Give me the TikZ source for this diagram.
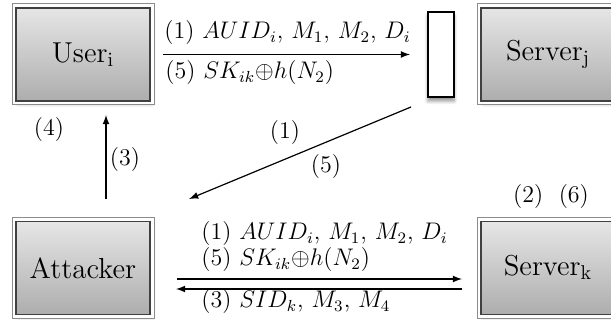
\documentclass[tikz,border=0pt]{standalone}
\usetikzlibrary{shadows.blur}
\begin{document}
\begin{tikzpicture}[
    x=0.5pt, y=-0.5pt,
    node distance=232.5pt,
    party/.style={
        blur shadow={shadow xshift=1.2pt, shadow yshift=-1.5pt, shadow blur steps=6, shadow opacity=30},
        preaction={draw=black!45, line width=4.5pt},
        preaction={draw=white, line width=3.5pt},
        draw=black!75,
        line width=0.8pt,
        top color=black!10,
        bottom color=black!32,
        minimum width=67pt,
        minimum height=46.5pt,
        inner sep=0pt,
        outer sep=0pt,
        font=\fontsize{14.5}{17}\selectfont
    },
    relay/.style={
        blur shadow={shadow xshift=0pt, shadow yshift=-2pt, shadow blur steps=6, shadow opacity=45},
        draw, fill=white,
        line width=0.8pt,
        minimum width=13pt,
        minimum height=42.5pt,
        outer sep=0pt
    },
    lbl/.style={inner sep=0pt, font=\large},
    msg/.style={-latex, semithick}
]
\clip (0,0) rectangle (611,320);

% Nodes
\node[party] (user) at (83,54.5) {$\mathrm{User_i}$};
\node[party] (serverj) [right of=user] {$\mathrm{Server_j}$};
\node[relay] (relay) [right of=user, node distance=179pt] {};
\node[party] (attacker) [below of=user, node distance=106.75pt] {Attacker};
\node[party] (serverk) [right of=attacker] {$\mathrm{Server_k}$};

\coordinate (dstart) at (411,107);
\coordinate (dend) at (189,199);

% Arrows
\draw[msg, shorten <=6.5pt, shorten >=9pt] (user) -- (relay);
\draw[msg] (dstart) -- (dend);
\draw[msg, shorten <=11pt, shorten >=7pt] ([xshift=11.5pt]attacker.north) -- ([xshift=11.5pt]user.south);
\draw[msg, shorten <=13.5pt, shorten >=9.5pt] ([yshift=-5.5pt]attacker.east) -- ([yshift=-5.5pt]serverk.west);
\draw[msg, shorten <=9.5pt, shorten >=13pt] ([yshift=-10.5pt]serverk.west) -- ([yshift=-10.5pt]attacker.east);

% Labels
\node[lbl, anchor=base west] (topone) at (164,39) {(1) $AUID_i$, $M_1$, $M_2$, $D_i$};
\node[lbl, anchor=base west] (topfive) at (165,79) {(5) $SK_{ik}{\oplus}h(N_2)$};
\node[lbl] (diagone) at (285,133) {(1)};
\node[lbl] (diagfive) at (326,167) {(5)};
\node[lbl] (four) at (49,130) {(4)};
\node[lbl] (three) at (125,160) {(3)};
\node[lbl] (twosix) at (551,197) {(2)\ \ (6)};
\node[lbl, anchor=base west] (botone) at (201,240) {(1) $AUID_i$, $M_1$, $M_2$, $D_i$};
\node[lbl, anchor=base west] (botfive) at (201,266) {(5) $SK_{ik}{\oplus}h(N_2)$};
\node[lbl, anchor=base west] (botthree) at (201,308) {(3) $SID_k$, $M_3$, $M_4$};

\end{tikzpicture}
\end{document}
